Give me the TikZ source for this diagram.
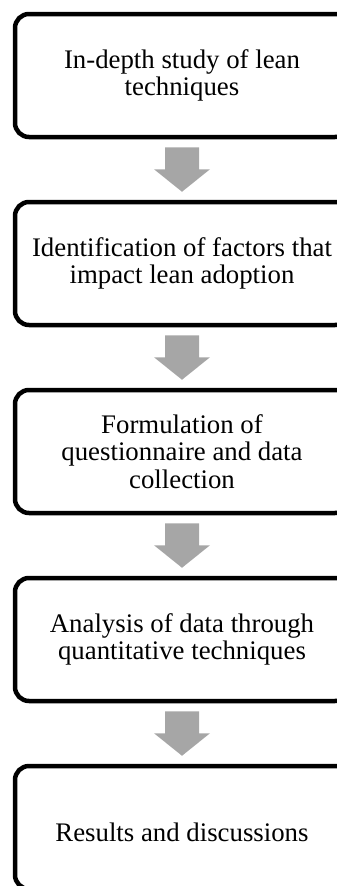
\documentclass[tikz,border=0pt]{standalone}
\usepackage{fontspec}
\setmainfont{Liberation Serif}
\usetikzlibrary{calc}
\definecolor{arrowgray}{RGB}{166,166,166}
\begin{document}
\begin{tikzpicture}[x=1pt,y=-1pt,
  stepbox/.style={draw=black, line width=4.5pt, rounded corners=14pt,
    minimum width=334pt, minimum height=123pt, inner sep=0pt,
    align=center, font=\fontsize{26.8}{27.6}\selectfont,
    execute at begin node={\rule{0pt}{29pt}}},
  flowarrow/.style={fill=arrowgray, draw=none}]
\useasboundingbox (0,0) rectangle (337,886);
\clip (0,0) rectangle (337,886);

% process steps
\node[stepbox] (s1) at (182,75.5)  {In-depth study of lean\\techniques};
\node[stepbox] (s2) at (182,263.5) {Identification of factors that\\impact lean adoption};
\node[stepbox] (s3) at (182,451.5) {Formulation of\\questionnaire and data\\collection};
\node[stepbox] (s4) at (182,639.5) {Analysis of data through\\quantitative techniques};
\node[stepbox] (s5) at (182,827.5) {Results and discussions};

% block arrows between consecutive steps
\foreach \a/\b in {s1/s2,s2/s3,s3/s4,s4/s5} {
  \fill[flowarrow]
    ($(\a.south)+(-17,8)$) -- ($(\a.south)+(17,8)$) -- ($(\a.south)+(17,30)$)
    -- ($(\a.south)+(28,30)$) -- ($(\b.north)+(0,-8)$)
    -- ($(\a.south)+(-28,30)$) -- ($(\a.south)+(-17,30)$) -- cycle;
}
\end{tikzpicture}
\end{document}
